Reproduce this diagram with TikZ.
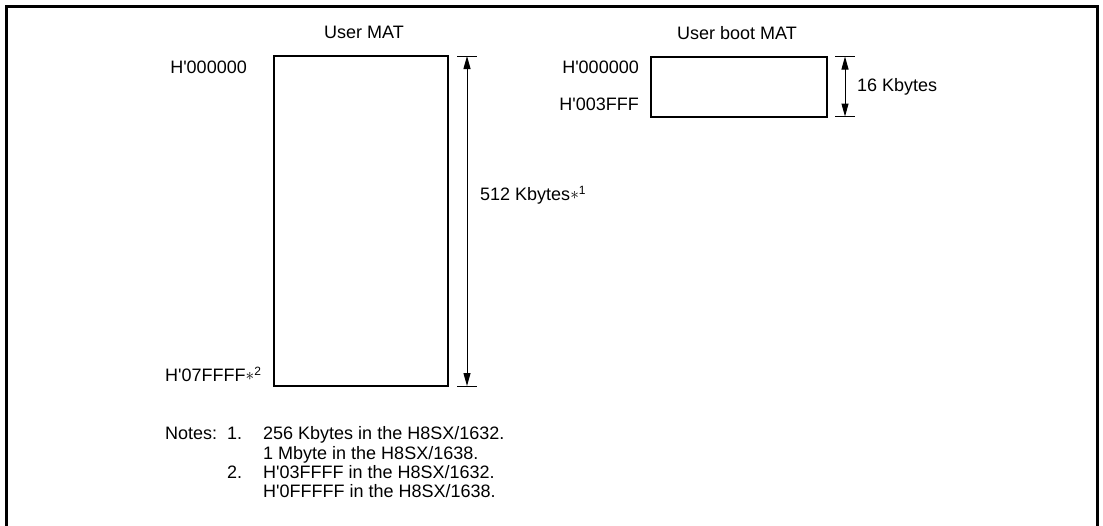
\documentclass[tikz,border=0pt]{standalone}
\usepackage{fontspec}
\setmainfont{Liberation Sans}
\usetikzlibrary{arrows.meta}
\newcommand{\noteast}[1]{\raisebox{0.15ex}{\fontsize{18}{18}\selectfont$\ast$}\raisebox{0.6ex}{\fontsize{12}{12}\selectfont #1}}
\newcommand{\q}{\textquotesingle}
\begin{document}
\begin{tikzpicture}[x=1pt,y=-1pt,
  txt/.style={font=\fontsize{18}{19}\selectfont, inner sep=0pt, text height=0.72em, text depth=0pt},
  matbox/.style={draw, line width=2pt, inner sep=0pt},
  tickline/.style={line width=1pt},
  dimarrow/.style={line width=1pt, {Triangle[length=13pt,width=7pt]}-{Triangle[length=13pt,width=7pt]}}]
\useasboundingbox (0,0) rectangle (1103,525);
% frame
\draw[line width=2.2pt] (6.5,526) -- (6.5,6.5) -- (1097.5,6.5) -- (1097.5,526);
% User MAT
\node[matbox, minimum width=174pt, minimum height=330pt] (umat) at (361,221) {};
\node[txt] (umattitle) at (364,35) {User MAT};
\node[txt, anchor=east] (ustart) at (247,70) {H\q 000000};
\node[txt, anchor=west] (uend) at (165,378) {H\q 07FFFF\noteast{2}};
\coordinate (ut) at (467,56);
\coordinate (ub) at (467,386);
\draw[tickline] ([xshift=-10pt]ut) -- ([xshift=10pt]ut);
\draw[tickline] ([xshift=-10pt]ub) -- ([xshift=10pt]ub);
\draw[dimarrow] (ut) -- (ub);
\node[txt, anchor=west] (usize) at (480,197) {512 Kbytes\noteast{1}};
% User boot MAT
\node[matbox, minimum width=176pt, minimum height=60pt] (bmat) at (738.5,86.5) {};
\node[txt] (bmattitle) at (737,36) {User boot MAT};
\node[txt, anchor=east] (bstart) at (639,70) {H\q 000000};
\node[txt, anchor=east] (bend) at (639,107) {H\q 003FFF};
\coordinate (bt) at (845,56.5);
\coordinate (bb) at (845,116.5);
\draw[tickline] ([xshift=-10pt]bt) -- ([xshift=10pt]bt);
\draw[tickline] ([xshift=-10pt]bb) -- ([xshift=10pt]bb);
\draw[dimarrow] (bt) -- (bb);
\node[txt, anchor=west] (bsize) at (857,88) {16 Kbytes};
% Notes
\node[txt, anchor=west] (notes) at (165,436) {Notes:};
\node[txt, anchor=west] (n1) at (227,436) {1.};
\node[txt, anchor=west] (n1a) at (263,436) {256 Kbytes in the H8SX/1632.};
\node[txt, anchor=west] (n1b) at (263,455.5) {1 Mbyte in the H8SX/1638.};
\node[txt, anchor=west] (n2) at (227,475) {2.};
\node[txt, anchor=west] (n2a) at (263,475) {H\q 03FFFF in the H8SX/1632.};
\node[txt, anchor=west] (n2b) at (263,494) {H\q 0FFFFF in the H8SX/1638.};
\end{tikzpicture}
\end{document}
